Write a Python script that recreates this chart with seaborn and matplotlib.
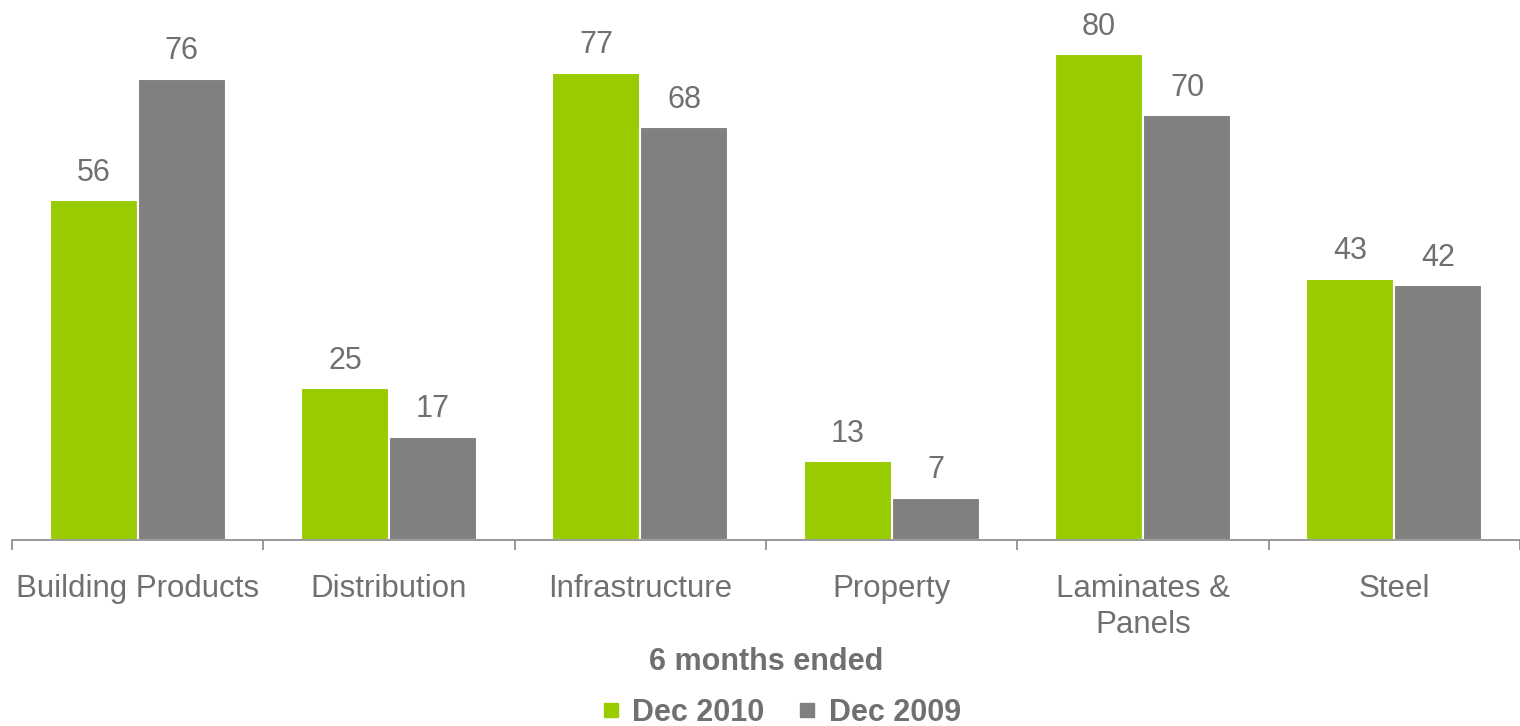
import matplotlib
matplotlib.use("Agg")
import matplotlib.pyplot as plt
import seaborn as sns
import pandas as pd
from matplotlib.lines import Line2D

categories = ["Building Products", "Distribution", "Infrastructure", "Property", "Laminates &\nPanels", "Steel"]
series_names = ["Dec 2010", "Dec 2009"]
dec2010 = [56, 25, 77, 13, 80, 43]
dec2009 = [76, 17, 68, 7, 70, 42]
colors = ["#99CC00", "#808080"]

df = pd.DataFrame({
    "category": categories * 2,
    "period": [series_names[0]] * len(categories) + [series_names[1]] * len(categories),
    "value": dec2010 + dec2009,
})

sns.set_theme(style="white")
plt.rcParams["font.family"] = ["Liberation Sans", "DejaVu Sans"]

fig = plt.figure(figsize=(15.2, 7.26), dpi=100)
ax = fig.add_axes([12 / 1520, 186 / 726, 1 - 12 / 1520, 516 / 726])

sns.barplot(data=df, x="category", y="value", hue="period", order=categories,
            hue_order=series_names, palette=colors, width=0.70, ax=ax, saturation=1,
            edgecolor="white", linewidth=1.5, legend=False)

text_color = "#707070"
for cont in ax.containers:
    ax.bar_label(cont, fmt="%d", padding=9, fontsize=22, color=text_color)

ax.set_ylim(0, 85)
ax.set_xlim(-0.5, 5.5 - 4 / 252)
for s in ["top", "right", "left"]:
    ax.spines[s].set_visible(False)
ax.spines["bottom"].set_color("#888888")
ax.spines["bottom"].set_linewidth(1.2)
ax.set_yticks([])
ax.set_ylabel("")
ax.set_xticks([i - 0.5 for i in range(len(categories) + 1)], minor=True)
ax.tick_params(axis="x", which="minor", length=7, width=1.2, color="#888888", bottom=True)
ax.tick_params(axis="x", which="major", length=0, pad=24.5, labelsize=22.5, labelcolor=text_color)
for lbl in ax.get_xticklabels():
    lbl.set_verticalalignment("top")
    lbl.set_linespacing(1.25)
ax.set_xlabel("6 months ended", fontsize=22, fontweight="bold", color=text_color, labelpad=5)

handles = [Line2D([], [], marker="s", linestyle="", markersize=10, color=c) for c in colors]
leg = fig.legend(handles, series_names, loc="center", bbox_to_anchor=(0.513, 0.018), ncol=2,
                 frameon=False, handletextpad=0.3, columnspacing=1.0, handlelength=0.8,
                 prop={"size": 22, "weight": "bold"})
for t in leg.get_texts():
    t.set_color(text_color)

fig.savefig("out.png", dpi=100)
